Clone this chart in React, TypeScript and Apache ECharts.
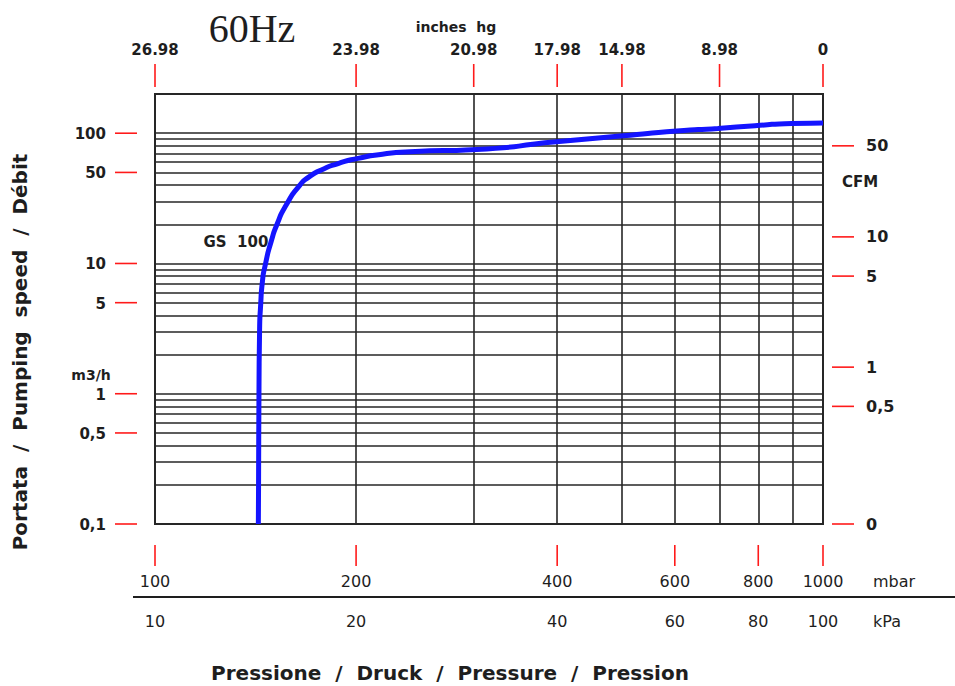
import React, { useEffect, useRef } from "react";
import * as echarts from "echarts";

// ---- Data (pressure in mbar, pumping speed in m3/h) ----
const pressureMbar = [142.8, 142.9, 143.1, 143.4, 144.0, 144.7, 146.4, 149.4, 152.3, 157.1, 164.8, 170.1, 177.8, 188.0, 201.3, 219.0, 240.8, 303, 399, 502, 604, 696, 791, 898, 1000];
const speedM3h = [0.1, 0.2, 1, 3, 5, 7, 10, 15, 20, 28, 40.0, 46.2, 52.5, 58.5, 64.1, 69, 72, 75.1, 85.9, 95.5, 103.8, 108.9, 114.1, 118.9, 120];

// ---- Axis ranges ----
const X_MIN = 100;
const X_MAX = 1000;
const Y_MIN = 0.1;
const Y_MAX = 200;

// ---- Grid lines ----
const xGridMbar = [200, 300, 400, 500, 600, 700, 800, 900];
const yGridM3h = [0.2, 0.3, 0.4, 0.5, 0.6, 0.7, 0.8, 0.9, 1, 2, 3, 4, 5, 6, 7, 8, 9, 10, 20, 30, 40, 50, 60, 70, 80, 90, 100];

// ---- Tick values and labels ----
const leftTickValues = [100, 50, 10, 5, 1, 0.5, 0.1];
const leftTickLabels = ["100", "50", "10", "5", "1", "0,5", "0,1"];
const cfmTickValues = [0, 0.5, 1, 5, 10, 50];
const cfmTickLabels = ["0", "0,5", "1", "5", "10", "50"];
const CFM_TO_M3H = 1.6;
const topTickMbar = [100, 200, 300, 400, 500, 700, 1000];
const inchesHgLabels = ["26.98", "23.98", "20.98", "17.98", "14.98", "8.98", "0"];
const bottomTickMbar = [100, 200, 400, 600, 800, 1000];
const mbarLabels = ["100", "200", "400", "600", "800", "1000"];
const kpaLabels = ["10", "20", "40", "60", "80", "100"];

const RED = "#ff1a1a";
const INK = "#1e1e1e";
const GRID = "#262626";
const BLUE = "#1414ff";
const SANS = '"DejaVu Sans", sans-serif';

function textEl(text: string, x: number, y: number, align: string, size: number, weight: string) {
  return {
    type: "text",
    x,
    y,
    style: {
      text,
      align,
      verticalAlign: "middle",
      fill: INK,
      fontSize: size,
      fontWeight: weight,
      fontFamily: SANS,
    },
  };
}

function tickLine(x1: number, y1: number, x2: number, y2: number) {
  return { type: "line", shape: { x1, y1, x2, y2 }, style: { stroke: RED, lineWidth: 1.6 } };
}

export default function App() {
  const ref = useRef<HTMLDivElement>(null);

  useEffect(() => {
    if (!ref.current) return;
    const chart = echarts.init(ref.current, undefined, { renderer: "svg" });

    const option: any = {
      animation: false,
      backgroundColor: "#ffffff",
      grid: {
        left: 155,
        right: 132,
        top: 94,
        bottom: 162,
        show: true,
        borderColor: GRID,
        borderWidth: 2,
        backgroundColor: "transparent",
      },
      xAxis: { type: "log", logBase: 10, min: X_MIN, max: X_MAX, show: false },
      yAxis: { type: "log", logBase: 10, min: Y_MIN, max: Y_MAX, show: false },
      series: [
        {
          type: "line",
          name: "grid",
          data: [],
          silent: true,
          z: 1,
          markLine: {
            silent: true,
            animation: false,
            symbol: ["none", "none"],
            label: { show: false },
            emphasis: { disabled: true },
            lineStyle: { color: GRID, width: 1.6, type: "solid" },
            data: [
              ...yGridM3h.map((v) => ({ yAxis: v })),
              ...xGridMbar.map((v) => ({ xAxis: v })),
            ],
          },
        },
        {
          type: "line",
          name: "GS 100",
          data: pressureMbar.map((p, i) => [p, speedM3h[i]]),
          showSymbol: false,
          symbol: "none",
          smooth: 0.7,
          clip: false,
          z: 5,
          lineStyle: { color: BLUE, width: 5 },
        },
        {
          type: "custom",
          name: "left ticks",
          coordinateSystem: "cartesian2d",
          clip: false,
          silent: true,
          data: leftTickValues.map((v, i) => [X_MIN, v, i]),
          renderItem: (_p: any, api: any) => {
            const c = api.coord([api.value(0), api.value(1)]);
            const i = api.value(2);
            return {
              type: "group",
              children: [
                tickLine(c[0] - 40, c[1], c[0] - 18, c[1]),
                textEl(leftTickLabels[i], c[0] - 49, c[1] + 1, "right", 15, "bold"),
              ],
            };
          },
        },
        {
          type: "custom",
          name: "right ticks",
          coordinateSystem: "cartesian2d",
          clip: false,
          silent: true,
          data: cfmTickValues.map((v, i) => [X_MAX, v === 0 ? Y_MIN : v * CFM_TO_M3H, i]),
          renderItem: (_p: any, api: any) => {
            const c = api.coord([api.value(0), api.value(1)]);
            const i = api.value(2);
            return {
              type: "group",
              children: [
                tickLine(c[0] + 9, c[1], c[0] + 31, c[1]),
                textEl(cfmTickLabels[i], c[0] + 43, c[1], "left", 16, "bold"),
              ],
            };
          },
        },
        {
          type: "custom",
          name: "top ticks",
          coordinateSystem: "cartesian2d",
          clip: false,
          silent: true,
          data: topTickMbar.map((v, i) => [v, Y_MAX, i]),
          renderItem: (_p: any, api: any) => {
            const c = api.coord([api.value(0), api.value(1)]);
            const i = api.value(2);
            return {
              type: "group",
              children: [
                tickLine(c[0], c[1] - 30, c[0], c[1] - 7),
                textEl(inchesHgLabels[i], c[0], c[1] - 44, "center", 15, "bold"),
              ],
            };
          },
        },
        {
          type: "custom",
          name: "bottom ticks",
          coordinateSystem: "cartesian2d",
          clip: false,
          silent: true,
          data: bottomTickMbar.map((v, i) => [v, Y_MIN, i]),
          renderItem: (_p: any, api: any) => {
            const c = api.coord([api.value(0), api.value(1)]);
            const i = api.value(2);
            return {
              type: "group",
              children: [
                tickLine(c[0], c[1] + 21, c[0], c[1] + 42),
                textEl(mbarLabels[i], c[0], c[1] + 57, "center", 16, "normal"),
                textEl(kpaLabels[i], c[0], c[1] + 97, "center", 16, "normal"),
              ],
            };
          },
        },
      ],
      graphic: [
        {
          type: "text",
          x: 252,
          y: 28,
          style: {
            text: "60Hz",
            align: "center",
            verticalAlign: "middle",
            fill: INK,
            fontSize: 40,
            fontFamily: '"Liberation Serif", serif',
          },
        },
        textEl("inches  hg", 456, 27, "center", 14, "bold"),
        textEl("GS  100", 236, 242, "center", 15, "bold"),
        textEl("m3/h", 91, 375, "center", 14, "bold"),
        textEl("CFM", 860, 182, "center", 15, "bold"),
        textEl("mbar", 894, 581, "center", 16, "normal"),
        textEl("kPa", 887, 621, "center", 16, "normal"),
        textEl("Pressione  /  Druck  /  Pressure  /  Pression", 450, 673, "center", 20, "bold"),
        {
          type: "text",
          x: 20,
          y: 352,
          rotation: Math.PI / 2,
          style: {
            text: "Portata  /  Pumping  speed  /  Débit",
            align: "center",
            verticalAlign: "middle",
            fill: INK,
            fontSize: 20,
            fontWeight: "bold",
            fontFamily: SANS,
          },
        },
        {
          type: "line",
          shape: { x1: 133, y1: 597, x2: 955, y2: 597 },
          style: { stroke: INK, lineWidth: 2 },
        },
      ],
    };

    chart.setOption(option);
    return () => chart.dispose();
  }, []);

  return (
    <div
      ref={ref}
      style={{ position: "absolute", left: 0, top: 0, width: 955, height: 686, background: "#fff" }}
    />
  );
}
